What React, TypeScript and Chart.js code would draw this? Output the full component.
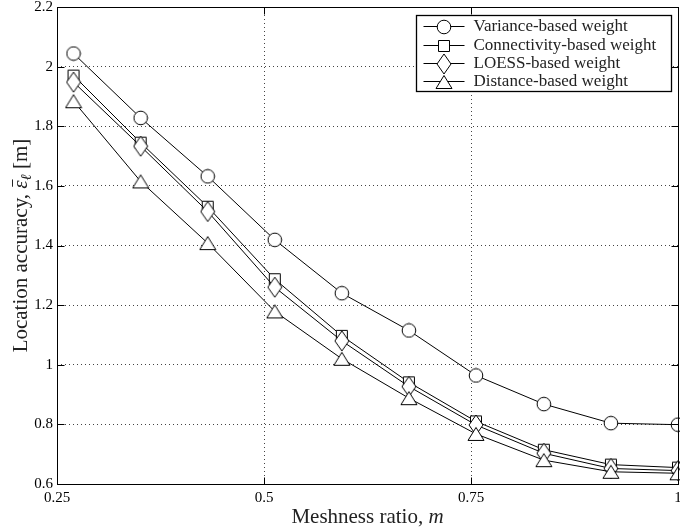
import React, { useEffect, useRef } from 'react';
import { Chart, registerables } from 'chart.js';

Chart.register(...registerables);

// ---- data ----
const meshness = [0.27, 0.351, 0.432, 0.513, 0.594, 0.675, 0.756, 0.838, 0.919, 1.0];
const varianceWeight = [2.044, 1.828, 1.632, 1.419, 1.24, 1.115, 0.964, 0.868, 0.804, 0.799];
const connectivityWeight = [1.97, 1.745, 1.53, 1.287, 1.097, 0.941, 0.81, 0.715, 0.665, 0.655];
const loessWeight = [1.948, 1.733, 1.514, 1.26, 1.08, 0.927, 0.798, 0.703, 0.652, 0.645];
const distanceWeight = [1.884, 1.615, 1.408, 1.179, 1.02, 0.888, 0.768, 0.68, 0.641, 0.636];
const seriesNames = [
  'Variance-based weight',
  'Connectivity-based weight',
  'LOESS-based weight',
  'Distance-based weight',
];
const markerKinds = ['circle', 'square', 'diamond', 'triangle'];
const xTicks = [0.25, 0.5, 0.75, 1];
const yTicks = [0.6, 0.8, 1.0, 1.2, 1.4, 1.6, 1.8, 2.0, 2.2];
const xTitle = 'Meshness ratio, ';
const xTitleVar = 'm';
const yTitle = 'Location accuracy, ';
const yTitleUnit = ' [m]';

const SERIF = '"Liberation Serif", "Times New Roman", "DejaVu Serif", serif';

const fmt = (v: number) => String(Number(v.toFixed(2)));

function makeMarker(kind: string): HTMLCanvasElement {
  const c = document.createElement('canvas');
  let w = 16, h = 16;
  if (kind === 'square') { w = 14; h = 14; }
  if (kind === 'diamond') { w = 16; h = 22; }
  if (kind === 'triangle') { w = 18; h = 16; }
  c.width = w; c.height = h;
  const g = c.getContext('2d')!;
  g.fillStyle = '#fff';
  g.strokeStyle = '#000';
  g.lineWidth = 1;
  g.beginPath();
  if (kind === 'circle') {
    g.arc(8, 8, 6.8, 0, Math.PI * 2);
  } else if (kind === 'square') {
    g.rect(1.5, 1.5, 11, 11);
  } else if (kind === 'diamond') {
    g.moveTo(8, 1); g.lineTo(15, 11); g.lineTo(8, 21); g.lineTo(1, 11); g.closePath();
  } else {
    g.moveTo(9, 1.5); g.lineTo(17, 14.5); g.lineTo(1, 14.5); g.closePath();
  }
  g.fill();
  g.stroke();
  return c;
}

export default function App() {
  const ref = useRef<HTMLCanvasElement>(null);

  useEffect(() => {
    document.body.style.margin = '0';
    const canvas = ref.current!;
    const markers = markerKinds.map(makeMarker);
    const series = [varianceWeight, connectivityWeight, loessWeight, distanceWeight];

    const datasets = series.map((vals, i) => ({
      label: seriesNames[i],
      data: vals.map((y, j) => ({ x: meshness[j], y })),
      borderColor: '#000',
      backgroundColor: '#fff',
      borderWidth: 1,
      pointStyle: markers[i],
      pointRadius: 7,
      pointHoverRadius: 7,
      tension: 0,
      order: 4 - i,
      clip: false,
    }));

    const decor = {
      id: 'decor',
      afterDraw(chart: any) {
        const ctx = chart.ctx as CanvasRenderingContext2D;
        const { left, right, top, bottom } = chart.chartArea;
        const xs = chart.scales.x;
        const ys = chart.scales.y;
        const L = Math.round(left) + 0.5;
        const R = Math.round(right) + 0.5;
        const T = Math.round(top) + 0.5;
        const B = Math.round(bottom) + 0.5;
        ctx.save();
        ctx.setLineDash([]);
        ctx.strokeStyle = '#000';
        ctx.lineWidth = 1;
        // inward ticks
        const tl = 7;
        ctx.beginPath();
        xTicks.forEach((v) => {
          const p = Math.round(xs.getPixelForValue(v)) + 0.5;
          ctx.moveTo(p, B); ctx.lineTo(p, B - tl);
          ctx.moveTo(p, T); ctx.lineTo(p, T + tl);
        });
        yTicks.forEach((v) => {
          const p = Math.round(ys.getPixelForValue(v)) + 0.5;
          ctx.moveTo(L, p); ctx.lineTo(L + tl, p);
          ctx.moveTo(R, p); ctx.lineTo(R - tl, p);
        });
        ctx.stroke();
        // frame
        ctx.strokeRect(L, T, R - L, B - T);

        // legend
        ctx.font = `17px ${SERIF}`;
        const maxW = Math.max(...seriesNames.map((s) => ctx.measureText(s).width));
        const boxW = Math.round(57 + maxW + 15);
        const boxH = 76;
        const bx = Math.round(right) - 7 - boxW + 0.5;
        const by = Math.round(top) + 8 + 0.5;
        ctx.fillStyle = '#fff';
        ctx.fillRect(bx, by, boxW, boxH);
        ctx.strokeStyle = '#000';
        ctx.lineWidth = 1.3;
        ctx.strokeRect(bx, by, boxW, boxH);
        ctx.lineWidth = 1;
        seriesNames.forEach((name, i) => {
          const cy = Math.round(by + 10.7 + i * 18.4);
          ctx.strokeStyle = '#000';
          ctx.beginPath();
          ctx.moveTo(bx + 7, cy + 0.5);
          ctx.lineTo(bx + 48, cy + 0.5);
          ctx.stroke();
          const m = markers[i];
          ctx.drawImage(m, Math.round(bx + 27.5 - m.width / 2), Math.round(cy + 0.5 - m.height / 2));
          ctx.fillStyle = '#222';
          ctx.textAlign = 'left';
          ctx.textBaseline = 'middle';
          ctx.fillText(name, bx + 57, cy + 1);
        });

        // x title
        ctx.fillStyle = '#222';
        ctx.textBaseline = 'alphabetic';
        ctx.textAlign = 'left';
        ctx.font = `21px ${SERIF}`;
        const w1 = ctx.measureText(xTitle).width;
        ctx.font = `italic 21px ${SERIF}`;
        const w2 = ctx.measureText(xTitleVar).width;
        const cx = (left + right) / 2;
        const x0 = cx - (w1 + w2) / 2;
        ctx.font = `21px ${SERIF}`;
        ctx.fillText(xTitle, x0, 523);
        ctx.font = `italic 21px ${SERIF}`;
        ctx.fillText(xTitleVar, x0 + w1, 523);

        // y title (rotated)
        ctx.save();
        ctx.translate(27, (top + bottom) / 2);
        ctx.rotate(-Math.PI / 2);
        ctx.font = `21px ${SERIF}`;
        const a1 = ctx.measureText(yTitle).width;
        const a4 = ctx.measureText(yTitleUnit).width;
        ctx.font = `italic 21px ${SERIF}`;
        const a2 = ctx.measureText('ε').width;
        ctx.font = `italic 15px ${SERIF}`;
        const a3 = ctx.measureText('ℓ').width;
        const total = a1 + a2 + a3 + a4;
        let px = -total / 2;
        ctx.font = `21px ${SERIF}`;
        ctx.fillText(yTitle, px, 0);
        px += a1;
        ctx.font = `italic 21px ${SERIF}`;
        ctx.fillText('ε', px, 0);
        ctx.strokeStyle = '#222';
        ctx.lineWidth = 1;
        ctx.beginPath();
        ctx.moveTo(px + 2, -14.5);
        ctx.lineTo(px + a2 + 1, -14.5);
        ctx.stroke();
        px += a2;
        ctx.font = `italic 15px ${SERIF}`;
        ctx.fillText('ℓ', px, 4);
        px += a3;
        ctx.font = `21px ${SERIF}`;
        ctx.fillText(yTitleUnit, px, 0);
        ctx.restore();

        ctx.restore();
      },
    };

    const chart = new Chart(canvas, {
      type: 'line',
      data: { datasets: datasets as any },
      options: {
        animation: false,
        responsive: false,
        events: [],
        layout: { autoPadding: false, padding: { top: 7, right: 2, left: 0, bottom: 0 } },
        plugins: { legend: { display: false }, tooltip: { enabled: false }, title: { display: false } },
        scales: {
          x: {
            type: 'linear',
            min: 0.25,
            max: 1,
            afterBuildTicks: (s: any) => { s.ticks = xTicks.map((v) => ({ value: v })); },
            afterFit: (s: any) => { s.height = 46; s.paddingLeft = 0; s.paddingRight = 0; },
            grid: { color: '#444', lineWidth: 1, drawTicks: false },
            border: { display: false, dash: [1, 3] },
            ticks: {
              padding: 5,
              color: '#000',
              maxRotation: 0,
              autoSkip: false,
              font: { family: SERIF, size: 15 },
              callback: (v: any) => fmt(Number(v)),
            },
          },
          y: {
            type: 'linear',
            min: 0.6,
            max: 2.2,
            afterBuildTicks: (s: any) => { s.ticks = yTicks.map((v) => ({ value: v })); },
            afterFit: (s: any) => { s.width = 57; s.paddingTop = 0; s.paddingBottom = 0; },
            grid: { color: '#444', lineWidth: 1, drawTicks: false },
            border: { display: false, dash: [1, 3] },
            ticks: {
              padding: 4,
              color: '#000',
              autoSkip: false,
              font: { family: SERIF, size: 15 },
              callback: (v: any) => fmt(Number(v)),
            },
          },
        },
      },
      plugins: [decor],
    });

    return () => chart.destroy();
  }, []);

  return (
    <div style={{ width: 680, height: 530, background: '#fff' }}>
      <canvas ref={ref} width={680} height={530} style={{ display: 'block' }} />
    </div>
  );
}
